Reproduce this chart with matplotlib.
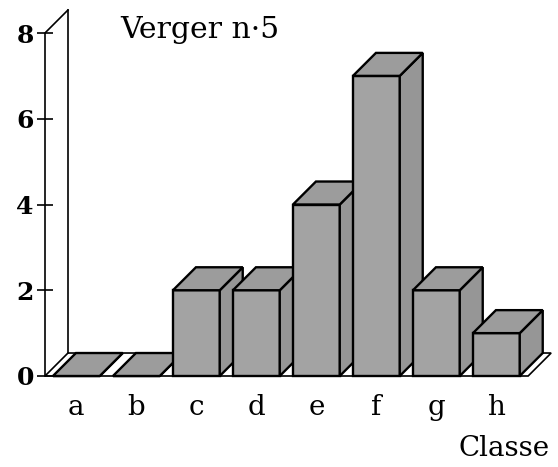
import matplotlib
matplotlib.use('Agg')
import matplotlib.pyplot as plt
from matplotlib.patches import Polygon

categories = ['a', 'b', 'c', 'd', 'e', 'f', 'g', 'h']
values = [0, 0, 2, 2, 4, 7, 2, 1]
yticks = [0, 2, 4, 6, 8]
title = 'Verger n·5'
xlabel = 'Classe'

fig = plt.figure(figsize=(5.58, 4.67), dpi=100)
ax = fig.add_axes([0.0806, 0.1765, 0.9057, 0.8171])
xmin, xmax = -0.523, 7.9
ax.set_xlim(xmin, xmax)
ax.set_ylim(-0.2, 8.7)

bw = 0.78
dx = 0.383
dy = 0.536
face = '#a3a3a3'
topc = '#9c9c9c'
sidec = '#969696'
lw = 1.7
xend = 7.53

# floor slab
ax.add_patch(Polygon([(xmin, 0), (xend, 0), (xend + dx, dy), (xmin + dx, dy)],
                     closed=True, fc='white', ec='black', lw=1.2, zorder=1,
                     clip_on=False))
# back wall
ax.plot([xmin + dx, xmin + dx], [dy, 8 + dy], color='black', lw=1.2, zorder=1)
ax.plot([xmin, xmin + dx], [8, 8 + dy], color='black', lw=1.2, zorder=1)

for i, v in enumerate(values):
    x0, x1 = i - bw / 2, i + bw / 2
    z = 2 + i * 0.1
    ax.bar(i, v, width=bw, color=face, edgecolor='black', linewidth=lw,
           zorder=z, clip_on=False)
    ax.add_patch(Polygon([(x1, 0), (x1 + dx, dy), (x1 + dx, v + dy), (x1, v)],
                         closed=True, fc=sidec, ec='black', lw=lw, zorder=z,
                         clip_on=False, joinstyle='miter'))
    ax.add_patch(Polygon([(x0, v), (x1, v), (x1 + dx, v + dy), (x0 + dx, v + dy)],
                         closed=True, fc=topc, ec='black', lw=lw, zorder=z + 0.01,
                         clip_on=False, joinstyle='miter'))

for s in ['top', 'right', 'bottom']:
    ax.spines[s].set_visible(False)
ax.spines['left'].set_bounds(0, 8)
ax.spines['left'].set_linewidth(1.2)
ax.spines['left'].set_zorder(5)

ax.set_yticks(yticks)
ax.set_yticklabels([str(t) for t in yticks], fontfamily='DejaVu Serif',
                   fontweight='bold', fontsize=18)
ax.tick_params(axis='y', direction='inout', length=12, width=1.2, pad=2)

ax.set_xticks(range(len(categories)))
ax.set_xticklabels(categories, fontfamily='DejaVu Serif', fontsize=20)
ax.tick_params(axis='x', length=0, pad=7)

fig.text(120 / 558, 1 - 30 / 467, title, fontfamily='DejaVu Serif', fontsize=21.5,
         ha='left', va='center')
fig.text(550 / 558, 1 - 449 / 467, xlabel, fontfamily='DejaVu Serif', fontsize=20,
         ha='right', va='center')

fig.savefig('out.png', dpi=100)
